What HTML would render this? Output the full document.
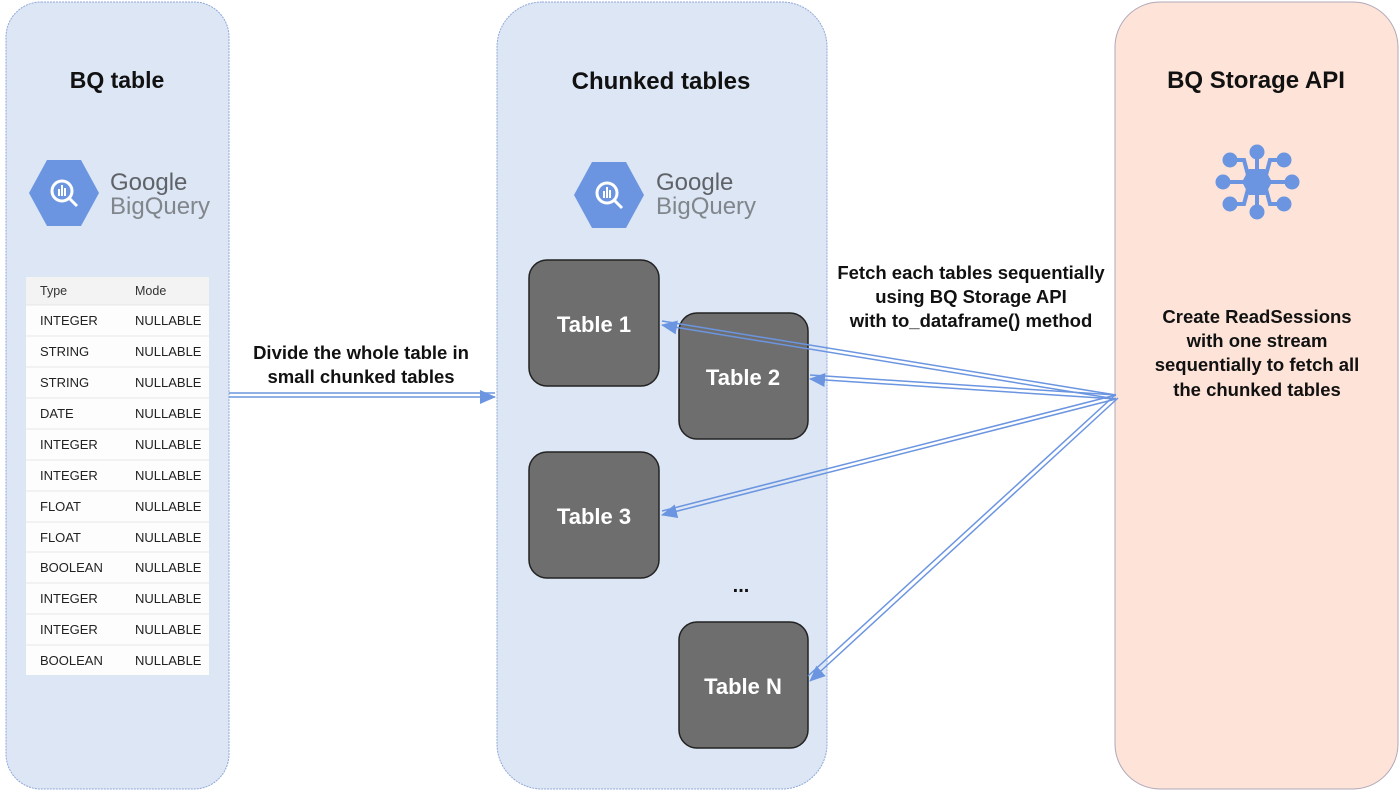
<!DOCTYPE html>
<html><head><meta charset="utf-8"><style>
html,body{margin:0;padding:0;background:#fff;}
svg{display:block;font-family:"Liberation Sans",sans-serif;}
</style></head><body>
<svg width="1400" height="792" viewBox="0 0 1400 792" xmlns="http://www.w3.org/2000/svg">
<defs>
<marker id="ah" markerWidth="16" markerHeight="14" refX="15" refY="7" orient="auto" markerUnits="userSpaceOnUse">
<path d="M0,0 L16,7 L0,14 z" fill="#6b95e0"/>
</marker>
<g id="hex">
<polygon points="-35,0 -17,-33 17,-33 35,0 17,33 -17,33" fill="#6b95e0"/>
<circle cx="-2" cy="-2" r="10" fill="none" stroke="#fff" stroke-width="3"/>
<line x1="5" y1="5" x2="13" y2="13" stroke="#fff" stroke-width="3"/>
<rect x="-6" y="-4" width="2" height="7" fill="#fff"/><rect x="-3" y="-8" width="2" height="11" fill="#fff"/><rect x="0" y="-5" width="2" height="8" fill="#fff"/>
</g>
</defs>
<rect x="6" y="2" width="223" height="787" rx="35" fill="#dce6f4" stroke="#8fa8d8" stroke-width="1" stroke-dasharray="2,1"/>
<rect x="497" y="2" width="330" height="787" rx="45" fill="#dce6f4" stroke="#8fa8d8" stroke-width="1" stroke-dasharray="2,1"/>
<rect x="1115" y="2" width="283" height="787" rx="45" fill="#fde3d8" stroke="#b0a8b8" stroke-width="1"/>
<text x="117" y="88" font-size="23" font-weight="bold" text-anchor="middle" fill="#111">BQ table</text>
<text x="661" y="89" font-size="24" font-weight="bold" text-anchor="middle" fill="#111">Chunked tables</text>
<text x="1256" y="88" font-size="24" font-weight="bold" text-anchor="middle" fill="#111">BQ Storage API</text>
<use href="#hex" x="64" y="193"/>
<text x="110" y="190" font-size="24" fill="#5f6368">Google</text>
<text x="110" y="214" font-size="24" fill="#80868b">BigQuery</text>
<use href="#hex" x="609" y="195"/>
<text x="656" y="190" font-size="24" fill="#5f6368">Google</text>
<text x="656" y="214" font-size="24" fill="#80868b">BigQuery</text>
<rect x="26" y="277" width="183" height="398" fill="#fdfdfd"/>
<rect x="26" y="277" width="183" height="28" fill="#f3f3f3"/>
<g font-size="12.5" fill="#333">
<text x="40" y="295">Type</text><text x="135" y="295">Mode</text>
</g>
<g font-size="13" fill="#222">
<text x="40" y="325">INTEGER</text><text x="135" y="325">NULLABLE</text>
<text x="40" y="356">STRING</text><text x="135" y="356">NULLABLE</text>
<text x="40" y="387">STRING</text><text x="135" y="387">NULLABLE</text>
<text x="40" y="418">DATE</text><text x="135" y="418">NULLABLE</text>
<text x="40" y="449">INTEGER</text><text x="135" y="449">NULLABLE</text>
<text x="40" y="480">INTEGER</text><text x="135" y="480">NULLABLE</text>
<text x="40" y="511">FLOAT</text><text x="135" y="511">NULLABLE</text>
<text x="40" y="542">FLOAT</text><text x="135" y="542">NULLABLE</text>
<text x="40" y="572">BOOLEAN</text><text x="135" y="572">NULLABLE</text>
<text x="40" y="603">INTEGER</text><text x="135" y="603">NULLABLE</text>
<text x="40" y="634">INTEGER</text><text x="135" y="634">NULLABLE</text>
<text x="40" y="665">BOOLEAN</text><text x="135" y="665">NULLABLE</text>
</g>
<g stroke="#e6e6e6" stroke-width="1">
<line x1="26" y1="305" x2="209" y2="305"/><line x1="26" y1="336" x2="209" y2="336"/><line x1="26" y1="367" x2="209" y2="367"/><line x1="26" y1="398" x2="209" y2="398"/><line x1="26" y1="429" x2="209" y2="429"/><line x1="26" y1="460" x2="209" y2="460"/><line x1="26" y1="491" x2="209" y2="491"/><line x1="26" y1="522" x2="209" y2="522"/><line x1="26" y1="552" x2="209" y2="552"/><line x1="26" y1="583" x2="209" y2="583"/><line x1="26" y1="614" x2="209" y2="614"/><line x1="26" y1="645" x2="209" y2="645"/>
</g>
<g fill="#6e6e6e" stroke="#222" stroke-width="1.5">
<rect x="529" y="260" width="130" height="126" rx="18"/>
<rect x="679" y="313" width="129" height="126" rx="18"/>
<rect x="529" y="452" width="130" height="126" rx="18"/>
<rect x="679" y="622" width="129" height="126" rx="18"/>
</g>
<g fill="#fff" font-size="22" font-weight="bold" text-anchor="middle">
<text x="594" y="332">Table 1</text>
<text x="743" y="385">Table 2</text>
<text x="594" y="524">Table 3</text>
<text x="743" y="694">Table N</text>
</g>
<text x="741" y="592" font-size="20" font-weight="bold" text-anchor="middle" fill="#111">...</text>
<g stroke="#6b95e0" stroke-width="1.5" fill="none">
<line x1="229" y1="393" x2="495" y2="393"/>
<line x1="229" y1="397" x2="495" y2="397" marker-end="url(#ah)"/>
<line x1="1116" y1="395" x2="662" y2="321"/>
<line x1="1116" y1="399" x2="662" y2="325" marker-end="url(#ah)"/>
<line x1="1116" y1="395" x2="810" y2="375"/>
<line x1="1116" y1="399" x2="810" y2="379" marker-end="url(#ah)"/>
<line x1="1116" y1="395" x2="662" y2="511"/>
<line x1="1116" y1="399" x2="662" y2="515" marker-end="url(#ah)"/>
<line x1="1114" y1="396" x2="808" y2="676"/>
<line x1="1118" y1="398" x2="810" y2="681" marker-end="url(#ah)"/>
</g>
<g font-size="18.5" font-weight="bold" fill="#111" text-anchor="middle">
<text x="361" y="359">Divide the whole table in</text>
<text x="361" y="383">small chunked tables</text>
<text x="971" y="279">Fetch each tables sequentially</text>
<text x="971" y="303">using BQ Storage API</text>
<text x="971" y="327">with to_dataframe() method</text>
<text x="1257" y="323">Create ReadSessions</text>
<text x="1257" y="347">with one stream</text>
<text x="1257" y="371">sequentially to fetch all</text>
<text x="1257" y="396">the  chunked tables</text>
</g>
<g fill="#6b95e0" stroke="#6b95e0">
<g stroke-width="4">
<line x1="1257" y1="182" x2="1257" y2="152"/><line x1="1257" y1="182" x2="1257" y2="212"/>
<line x1="1257" y1="182" x2="1223" y2="182"/><line x1="1257" y1="182" x2="1292" y2="182"/>
<polyline points="1248,175 1244,160 1230,160" fill="none"/><polyline points="1266,175 1270,160 1284,160" fill="none"/>
<polyline points="1248,189 1244,204 1230,204" fill="none"/><polyline points="1266,189 1270,204 1284,204" fill="none"/>
</g>
<polygon points="1242,182 1249,169 1265,169 1272,182 1265,195 1249,195" stroke="none"/>
<circle cx="1257" cy="152" r="7.5" stroke="none"/><circle cx="1257" cy="212" r="7.5" stroke="none"/>
<circle cx="1223" cy="182" r="7.5" stroke="none"/><circle cx="1292" cy="182" r="7.5" stroke="none"/>
<circle cx="1230" cy="160" r="7.5" stroke="none"/><circle cx="1284" cy="160" r="7.5" stroke="none"/>
<circle cx="1230" cy="204" r="7.5" stroke="none"/><circle cx="1284" cy="204" r="7.5" stroke="none"/>
</g>
</svg>
</body></html>
